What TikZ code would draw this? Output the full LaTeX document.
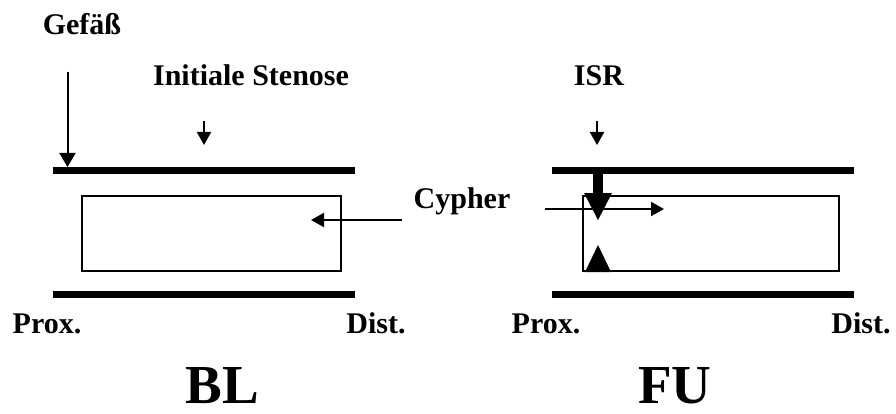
\documentclass[tikz,border=0pt]{standalone}
\usepackage{fontspec}
\setmainfont{Liberation Serif}
\usetikzlibrary{arrows.meta}
\begin{document}
\begin{tikzpicture}[x=1pt,y=-1pt,
  lbl/.style={font=\fontsize{30}{34}\selectfont\bfseries, inner sep=0pt, anchor=base},
  big/.style={font=\fontsize{55}{60}\selectfont\bfseries, inner sep=0pt, anchor=base},
  wall/.style={line width=7pt},
  stent/.style={line width=2pt},
  thin/.style={line width=2pt, -{Triangle[length=13pt,width=14pt]}},
  tri/.style={fill=black, draw=none}]
\useasboundingbox (0,0) rectangle (896,414);
% labels
\node[lbl] (gef) at (82,35) {Gefäß};
\node[lbl] (ini) at (251,86) {Initiale Stenose};
\node[lbl] (isr) at (599,86) {ISR};
\node[lbl] (cyp) at (462,208) {Cypher};
\node[lbl] (p1) at (47,333) {Prox.};
\node[lbl] (d1) at (376,333) {Dist.};
\node[lbl] (p2) at (546,333) {Prox.};
\node[lbl] (d2) at (861,333) {Dist.};
\node[big] (bl) at (222,403) {BL};
\node[big] (fu) at (675,403) {FU};
% BL vessel
\draw[wall] (53,170.5) coordinate (bt1) -- (355,170.5) coordinate (bt2);
\draw[wall] (53,294.5) coordinate (bb1) -- (355,294.5) coordinate (bb2);
\draw[stent] (82,196) rectangle (341,271);
% FU vessel
\draw[wall] (552,170.5) coordinate (ft1) -- (854,170.5) coordinate (ft2);
\draw[wall] (552,294.5) coordinate (fb1) -- (854,294.5) coordinate (fb2);
\draw[stent] (583,196) rectangle (839,271);
% arrows BL
\coordinate (g0) at (67.5,72);
\coordinate (g1) at (67.5,167);
\draw[line width=2pt, -{Triangle[length=14pt,width=16pt]}] (g0) -- (g1);
\coordinate (s0) at (204,121);
\coordinate (s1) at (204,145);
\draw[thin] (s0) -- (s1);
\coordinate (c0) at (402,220);
\coordinate (c1) at (311,220);
\draw[thin] (c0) -- (c1);
% arrows FU
\coordinate (i0) at (597,121);
\coordinate (i1) at (597,145);
\draw[thin] (i0) -- (i1);
\coordinate (e0) at (545,209);
\coordinate (e1) at (664,209);
\draw[thin] (e0) -- (e1);
% ISR thick arrow and bump
\fill (592.5,174) rectangle (603,194);
\fill[tri] (584,193) -- (612,193) -- (598,220) -- cycle;
\fill[tri] (585,272) -- (611,272) -- (598,245) -- cycle;
\end{tikzpicture}
\end{document}
